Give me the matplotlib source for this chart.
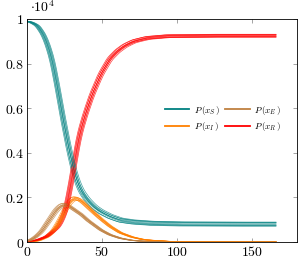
import numpy as np
import matplotlib
matplotlib.use("Agg")
import matplotlib.pyplot as plt
from matplotlib.ticker import FuncFormatter

plt.rcParams['mathtext.fontset'] = 'cm'
plt.rcParams['font.family'] = 'serif'
plt.rcParams['font.serif'] = ['DejaVu Serif']

# values (population fractions, axis scaled by 1e4)
t_s = [0, 3, 7, 11, 14, 17, 19, 21, 23, 25, 27, 29, 31, 33, 36, 40, 45, 49, 55, 62, 70, 82, 100, 130, 166]
p_s = [0.99, 0.985, 0.97, 0.93, 0.88, 0.81, 0.74, 0.67, 0.59, 0.52, 0.45, 0.385, 0.33, 0.28, 0.23,
       0.19, 0.155, 0.136, 0.115, 0.098, 0.09, 0.084, 0.081, 0.08, 0.08]

t_e = [0, 4, 7, 10, 13, 16, 19, 22, 24, 26, 28, 30, 33, 36, 40, 45, 49, 55, 62, 70, 80, 100, 166]
p_e = [0.002, 0.015, 0.03, 0.05, 0.08, 0.11, 0.14, 0.16, 0.167, 0.168, 0.162, 0.152, 0.138, 0.125,
       0.1, 0.075, 0.055, 0.033, 0.017, 0.007, 0.002, 0.0, 0.0]

t_i = [0, 7, 13, 17, 20, 23, 25, 27, 29, 31, 33, 35, 37, 40, 44, 49, 55, 62, 70, 78, 93, 110, 166]
p_i = [0.0, 0.005, 0.022, 0.045, 0.075, 0.11, 0.14, 0.165, 0.185, 0.195, 0.196, 0.19, 0.18, 0.16,
       0.135, 0.105, 0.072, 0.042, 0.022, 0.01, 0.003, 0.001, 0.0]

t_r = [0, 7, 13, 17, 21, 24, 26, 29, 31, 33, 35, 37, 39, 43, 49, 55, 60, 65, 71, 80, 93, 120, 166]
p_r = [0.0, 0.009, 0.024, 0.045, 0.07, 0.11, 0.15, 0.25, 0.33, 0.41, 0.48, 0.53, 0.575, 0.655, 0.75,
       0.82, 0.855, 0.88, 0.90, 0.915, 0.923, 0.925, 0.925]

# spread of the trajectory bundle: time shift and relative size change per run
run_dt = [-1.6, -1.2, -0.7, -0.3, 0.0, 0.3, 0.7, 1.2, 1.6]
run_ds = [0.008, -0.005, 0.01, -0.009, 0.0, 0.006, -0.007, 0.004, -0.01]

teal = (0, 0.5, 0.5)
orange = (1, 0.5, 0)
brown = (0.75, 0.5, 0.25)
red = (1, 0, 0)

fig = plt.figure(figsize=(2.98, 2.61), dpi=100)
ax = fig.add_axes([27 / 298, 19 / 261, 270 / 298, 223 / 261])

tt = np.linspace(0, 166, 600)
kern = np.ones(11) / 11


def curve(t, p, dt):
    y = np.interp(tt - dt, t, p)
    # soften the corners between the read points
    yp = np.pad(y, 5, mode='edge')
    return np.convolve(yp, kern, mode='valid')


for dt, ds in zip(run_dt, run_ds):
    ys = 1 - (1 - curve(t_s, p_s, dt)) * (1 + ds)
    ye = curve(t_e, p_e, dt) * (1 + 4 * ds)
    yi = curve(t_i, p_i, dt) * (1 + 4 * ds)
    yr = curve(t_r, p_r, dt) * (1 + 0.7 * ds)
    ax.plot(tt, ys, color=teal, lw=0.5, alpha=0.75)
    ax.plot(tt, ye, color=brown, lw=0.5, alpha=0.75)
    ax.plot(tt, yi, color=orange, lw=0.5, alpha=0.75)
    ax.plot(tt, yr, color=red, lw=0.5, alpha=0.75)

# legend entries
ax.plot([], [], color=teal, lw=1.3, label=r'$P\,(x_S\,)$')
ax.plot([], [], color=orange, lw=1.3, label=r'$P\,(x_I\,)$')
ax.plot([], [], color=brown, lw=1.3, label=r'$P\,(x_E\,)$')
ax.plot([], [], color=red, lw=1.3, label=r'$P\,(x_R\,)$')

ax.set_xlim(0, 180)
ax.set_ylim(0, 1)
ax.set_xticks([0, 50, 100, 150])
ax.set_yticks([0, 0.2, 0.4, 0.6, 0.8, 1])
fmt = FuncFormatter(lambda v, pos: '$%g$' % round(v, 2))
ax.xaxis.set_major_formatter(fmt)
ax.yaxis.set_major_formatter(fmt)
ax.tick_params(direction='in', top=True, right=True, length=3, width=0.5,
               labelsize=10, pad=2, color='0.5')
for sp in ax.spines.values():
    sp.set_linewidth(0.6)

ax.text(0.01, 1.02, r'$\cdot 10^4$', transform=ax.transAxes, fontsize=10, va='bottom', ha='left')

leg = ax.legend(ncol=2, frameon=False, fontsize=6.5, loc='center left',
                bbox_to_anchor=(0.48, 0.555), handlelength=2.7, columnspacing=0.6,
                handletextpad=0.5, labelspacing=0.35)

fig.savefig('out.png', dpi=100)
